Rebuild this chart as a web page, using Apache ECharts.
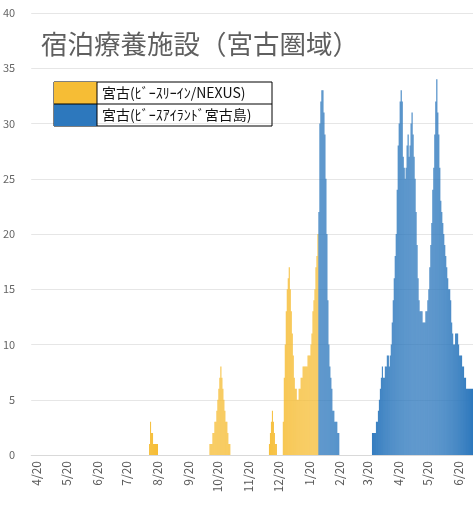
<!DOCTYPE html>
<html>
<head>
<meta charset="utf-8">
<script src="https://cdn.jsdelivr.net/npm/echarts@6/dist/echarts.min.js"></script>
<style>
  html, body { margin: 0; padding: 0; background: #fff; }
  #chart { width: 473px; height: 509px; }
</style>
</head>
<body>
<div id="chart"></div>
<script>
// daily axis
const startDate = '2020-04-15';
const endDate = '2021-07-04';
const yTicks = [0, 5, 10, 15, 20, 25, 30, 35, 40];

const legendNames = ['宮古(ﾋﾞｰｽﾘｰｲﾝ/NEXUS)', '宮古(ﾋﾞｰｽｱｲﾗﾝﾄﾞ宮古島)'];

// yellow runs (start date + daily counts)
const yellowAugStart = '2020-08-12';
const yellowAug = [1, 3, 2, 2, 1, 1, 1, 1, 1];
const yellowOctStart = '2020-10-12';
const yellowOct = [1, 1, 1, 2, 2, 3, 3, 4, 5, 6, 7, 8, 7, 6, 5, 4, 3, 3, 2, 1, 1];
const yellowDecStart = '2020-12-11';
const yellowDec = [1, 2, 3, 4, 3, 2, 1, 1];
const yellowJanStart = '2020-12-25';
const yellowJan = [3, 7, 10, 13, 15, 16, 17, 15, 13, 11, 9, 7, 6, 6, 5, 5, 6, 6,
  7, 7, 8, 8, 8, 8, 8, 9, 9, 9, 10, 11, 13, 14, 15, 17, 18, 20];

// blue runs
const blueFebStart = '2021-01-30';
const blueFeb = [22, 30, 32, 33, 33, 31, 29, 25, 20, 14, 10, 8, 7, 6, 4, 4, 3, 3, 3, 2, 2];
const blueAprStart = '2021-03-25';
const blueApr = [2, 2, 2, 2, 3, 3, 4, 5, 6, 7, 8, 7, 7, 8, 8, 9, 9, 8, 9, 10,
  12, 14, 16, 18, 20, 24, 28, 30, 32, 33, 32, 27, 26, 25, 26, 28, 29, 27, 28, 30,
  31, 29, 27, 25, 22, 19, 16, 14, 13, 13, 13, 12, 12, 12, 13, 13, 14, 15, 17, 19,
  21, 24, 26, 29, 32, 34, 31, 29, 26, 23, 22, 21, 20, 19, 18, 17, 16, 15, 15, 14,
  12, 11, 10, 10, 11, 11, 11, 10, 9, 9, 9, 8, 8, 7, 7, 6, 6, 6, 6, 6, 6, 6];

const DAY = 86400000;
const t0 = Date.parse(startDate + 'T00:00:00Z');
const dayIndex = (s) => Math.round((Date.parse(s + 'T00:00:00Z') - t0) / DAY);
const nDays = dayIndex(endDate) + 1;

const categories = [];
for (let i = 0; i < nDays; i++) {
  const d = new Date(t0 + i * DAY);
  categories.push((d.getUTCMonth() + 1) + '/' + d.getUTCDate());
}

const place = (runs) => {
  const out = new Array(nDays).fill(0);
  runs.forEach(([start, vals]) => {
    const k = dayIndex(start);
    vals.forEach((v, i) => { if (k + i < nDays) out[k + i] = v; });
  });
  return out;
};

const yellowData = place([[yellowAugStart, yellowAug], [yellowOctStart, yellowOct],
  [yellowDecStart, yellowDec], [yellowJanStart, yellowJan]]);
const blueData = place([[blueFebStart, blueFeb], [blueAprStart, blueApr]]);

const font = '"Noto Sans CJK JP", "Noto Sans", sans-serif';
const chart = echarts.init(document.getElementById('chart'));

chart.setOption({
  animation: false,
  textStyle: { fontFamily: font },
  title: {
    text: '宿泊療養施設（宮古圏域）',
    left: 36,
    top: 26,
    textStyle: { fontSize: 26.5, fontWeight: 'normal', color: '#5f5f5f', fontFamily: font },
  },
  legend: {
    data: legendNames,
    orient: 'vertical',
    left: 54,
    top: 82,
    padding: 0,
    itemGap: 0,
    itemWidth: 43,
    itemHeight: 22,
    icon: 'rect',
    borderColor: '#000',
    borderWidth: 1,
    selectedMode: false,
    textStyle: { fontSize: 14, color: '#111', width: 170, lineHeight: 22, fontFamily: font },
  },
  graphic: [
    { type: 'line', shape: { x1: 97, y1: 82, x2: 97, y2: 126 }, style: { stroke: '#000', lineWidth: 1 }, z: 100 },
    { type: 'line', shape: { x1: 54, y1: 104, x2: 272, y2: 104 }, style: { stroke: '#000', lineWidth: 1 }, z: 100 },
  ],
  grid: { left: 28, right: 0, top: 13, bottom: 54 },
  xAxis: {
    type: 'category',
    data: categories,
    axisLine: { lineStyle: { color: '#d9d9d9' } },
    axisTick: { show: false },
    axisLabel: {
      interval: (i, v) => v.endsWith('/20'),
      rotate: 90,
      margin: 6,
      fontSize: 12,
      color: '#595959',
    },
  },
  yAxis: {
    type: 'value',
    min: yTicks[0],
    max: yTicks[yTicks.length - 1],
    interval: 5,
    axisLine: { show: false },
    axisTick: { show: false },
    axisLabel: { margin: 16, fontSize: 11, color: '#666' },
    splitLine: { lineStyle: { color: '#e6e6e6' } },
  },
  series: [
    {
      name: legendNames[0],
      type: 'bar',
      stack: 'total',
      data: yellowData,
      itemStyle: { color: '#F6BD35' },
      barWidth: '100%',
      barCategoryGap: 0,
    },
    {
      name: legendNames[1],
      type: 'bar',
      stack: 'total',
      data: blueData,
      itemStyle: { color: '#2D78BD' },
      barWidth: '100%',
      barCategoryGap: 0,
    },
  ],
});
</script>
</body>
</html>
